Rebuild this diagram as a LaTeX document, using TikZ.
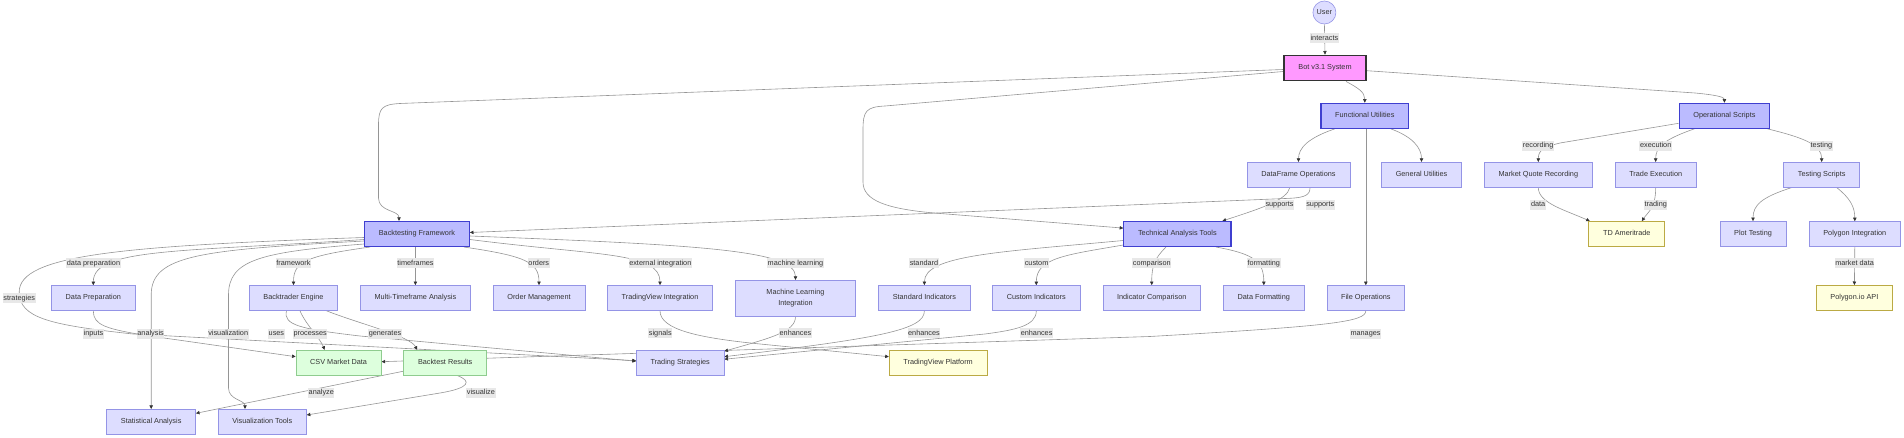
\documentclass[tikz,border=0pt]{standalone}
\usepackage{fontspec}
\setmainfont{Liberation Sans}
\usetikzlibrary{arrows.meta,calc}
\definecolor{txt}{HTML}{333333}
\definecolor{featfill}{HTML}{DDDDFF}
\definecolor{featdraw}{HTML}{9494E6}
\definecolor{catfill}{HTML}{BBBBFF}
\definecolor{catdraw}{HTML}{3F3FD0}
\definecolor{botfill}{HTML}{FF99FF}
\definecolor{botdraw}{HTML}{333333}
\definecolor{gfill}{HTML}{DDFFDD}
\definecolor{gdraw}{HTML}{8FCC8F}
\definecolor{yfill}{HTML}{FFFFDE}
\definecolor{ydraw}{HTML}{BBAA44}
\definecolor{lblfill}{HTML}{E8E8E8}
\definecolor{edgec}{HTML}{959595}
\definecolor{arrowc}{HTML}{333333}
\newcommand\mmfont{\fontsize{7.3}{11}\selectfont}
\pgfdeclarelayer{edgelayer}
\pgfsetlayers{edgelayer,main}
\tikzset{
  base/.style={rectangle, font=\mmfont, text=txt, minimum height=25pt, inner xsep=14.2pt, inner ysep=0pt, text height=5.3pt, text depth=1.5pt},
  feat/.style={base, fill=featfill, draw=featdraw, line width=0.6pt},
  cat/.style={base, fill=catfill, draw=catdraw, line width=1.1pt},
  botst/.style={base, fill=botfill, draw=botdraw, line width=1.8pt},
  grn/.style={base, fill=gfill, draw=gdraw, line width=0.7pt},
  ylw/.style={base, fill=yfill, draw=ydraw, line width=0.8pt},
  lbl/.style={font=\mmfont, text=txt, fill=lblfill, inner xsep=0.6pt, inner ysep=1.6pt, text height=5.3pt, text depth=1.5pt},
  edge/.style={draw=edgec, line width=0.6pt, -{Triangle[length=3.6pt,width=3.4pt,color=arrowc]}},
}
\begin{document}
\begin{tikzpicture}[x=1pt,y=-1pt]
\useasboundingbox (0,0) rectangle (1904,438);
% nodes
\node[circle, fill=featfill, draw=featdraw, line width=0.6pt, minimum size=23pt, inner sep=0pt, font=\mmfont, text=txt] (user) at (1324.4,12.5) {User};
\node[botst] (bot) at (1325,68) {Bot v3.1 System};
\node[cat] (fu) at (1364.8,115.8) {Functional Utilities};
\node[cat] (os) at (1724.4,115.8) {Operational Scripts};
\node[feat] (dfo) at (1298.5,174.8) {DataFrame Operations};
\node[feat] (gu) at (1421.5,174.8) {General Utilities};
\node[feat] (mqr) at (1538.3,174.8) {Market Quote Recording};
\node[feat] (te) at (1655.7,174.8) {Trade Execution};
\node[feat] (tscr) at (1821.7,174.8) {Testing Scripts};
\node[cat] (bf) at (417,234) {Backtesting Framework};
\node[cat] (tat) at (1177.4,234) {Technical Analysis Tools};
\node[ylw] (tda) at (1626.8,234) {TD Ameritrade};
\node[feat] (pt) at (1753,234) {Plot Testing};
\node[feat] (pi) at (1854.8,234) {Polygon Integration};
\node[feat] (dp) at (93.3,298) {Data Preparation};
\node[feat] (be) at (293.5,298) {Backtrader Engine};
\node[feat] (mta) at (415.4,298) {Multi-Timeframe Analysis};
\node[feat] (om) at (539,298) {Order Management};
\node[feat] (tvi) at (660,298) {TradingView Integration};
\node[feat, text height=, text depth=, minimum height=36pt, minimum width=119.6pt, align=center, inner xsep=0pt] (ml) at (795.5,298.3) {Machine Learning\\Integration};
\node[feat] (si) at (924.4,298) {Standard Indicators};
\node[feat] (ci) at (1036.3,298) {Custom Indicators};
\node[feat] (ic) at (1151.7,298) {Indicator Comparison};
\node[feat] (df) at (1263.8,298) {Data Formatting};
\node[feat] (fo) at (1365.8,298) {File Operations};
\node[ylw] (papi) at (1854.4,298) {Polygon.io API};
\node[grn] (csv) at (338.6,362.7) {CSV Market Data};
\node[grn] (br) at (445.2,362.7) {Backtest Results};
\node[feat] (strat) at (680.2,362.7) {Trading Strategies};
\node[ylw] (tvp) at (938.1,362.7) {TradingView Platform};
\node[feat] (sa) at (151.2,421.8) {Statistical Analysis};
\node[feat] (vt) at (262.3,421.8) {Visualization Tools};
% edges
\begin{pgfonlayer}{edgelayer}
\draw[edge] (user.south) -- (bot.north);
\draw[edge] ([yshift=-1.5pt]bot.west) -- (400,103.5) .. controls (382,104.5) and (378.5,108) .. (378.5,125) -- (378.5,198) .. controls (378.5,212) and (399,210) .. ([xshift=-18pt]bf.north);
\draw[edge] ([yshift=-3.5pt]bot.west) -- (885,106) .. controls (866,107) and (863,111) .. (863,130) -- (863,182) .. controls (863,200) and (885,209) .. (937.8,213.3) -- ([yshift=5.9pt]tat.west);
\draw[edge] ([xshift=21pt]bot.south) .. controls (1358,88) and (1364.8,92) .. (fu.north);
\draw[edge] ([yshift=-2.7pt]bot.east) -- (1695,93) .. controls (1716,95) and (1724.4,97) .. (os.north);
\draw[edge] ([xshift=-30pt]fu.south) .. controls (1308,138) and (1298.5,148) .. (dfo.north);
\draw[edge] ([xshift=26pt]fu.south) .. controls (1413,137) and (1421.5,148) .. (gu.north);
\draw[edge] (fo.north |- fu.south) -- (fo.north);
\draw[edge] ([yshift=-7.5pt]os.west) -- (1560,143) .. controls (1544,147) and (1538.3,150) .. (mqr.north);
\draw[edge] ([xshift=-30pt]os.south) .. controls (1662,140) and (1655.7,148) .. (te.north);
\draw[edge] ([xshift=43pt]os.south) .. controls (1805,138) and (1821.7,145) .. (tscr.north);
\draw[edge] ([xshift=-8.7pt]dfo.south) .. controls (1287,200) and (1262,208) .. ([xshift=45pt]tat.north);
\draw[edge] ([xshift=11.5pt]dfo.south) .. controls (1310,195) and (1305,197.5) .. (1290,198.3) -- ([yshift=1.5pt]bf.east);
\draw[edge] (mqr.south) .. controls (1538.3,203) and (1565,210) .. ([xshift=-37pt]tda.north);
\draw[edge] (te.south) .. controls (1655.7,208) and (1648,212) .. ([xshift=15pt]tda.north);
\draw[edge] ([xshift=-30pt]tscr.south) .. controls (1762,197) and (1753,205) .. (pt.north);
\draw[edge] ([xshift=15pt]tscr.south) .. controls (1850,198) and (1854.8,207) .. (pi.north);
\draw[edge] (pi.south) -- (papi.north);
\draw[edge] ([yshift=-6.5pt]tat.west) .. controls (1000,252) and (924.4,255) .. (si.north);
\draw[edge] ([yshift=-11pt]tat.west) .. controls (1065,255) and (1036.3,258) .. (ci.north);
\draw[edge] ([xshift=-11.4pt]tat.south) .. controls (1155,258) and (1151.7,265) .. (ic.north);
\draw[edge] ([xshift=38.6pt]tat.south) .. controls (1255,254) and (1263.8,262) .. (df.north);
\draw[edge] ([yshift=-5.5pt]bf.west) .. controls (180,252) and (93.3,248) .. (dp.north);
\draw[edge] ([yshift=-3.5pt]bf.west) .. controls (120,246) and (19.2,255) .. (19.2,292) .. controls (19.2,318) and (50,325) .. (133,334) -- ([yshift=2pt]strat.west);
\draw[edge] ([yshift=-7pt]bf.west) .. controls (200,250) and (151.2,255) .. (151.2,295) -- (sa.north);
\draw[edge] ([yshift=-10pt]bf.west) .. controls (260,252) and (228.5,260) .. (228.5,295) -- (228.5,388) .. controls (228.5,400) and (245,400) .. ([xshift=-17.3pt]vt.north);
\draw[edge] ([xshift=-47pt]bf.south) .. controls (305,256) and (293.5,262) .. (be.north);
\draw[edge] (mta.north |- bf.south) -- (mta.north);
\draw[edge] ([xshift=47pt]bf.south) .. controls (525,256) and (539,262) .. (om.north);
\draw[edge] ([yshift=-5.5pt]bf.east) .. controls (600,256) and (660,252) .. (tvi.north);
\draw[edge] ([yshift=-2pt]bf.east) .. controls (700,245) and (795.5,250) .. (ml.north);
\draw[edge] ([xshift=-7pt]be.south) .. controls (283,325) and (300,329) .. (360,336) -- ([yshift=1.5pt]strat.west);
\draw[edge] ([xshift=6.5pt]be.south) .. controls (306,325) and (320,338) .. ([xshift=-14pt]csv.north);
\draw[edge] ([xshift=33pt]be.south) .. controls (360,324) and (410,336) .. ([xshift=-28pt]br.north);
\draw[edge] (dp.south) .. controls (93.3,325) and (105,329) .. (150,336) -- ([yshift=6pt]csv.west);
\draw[edge] ([yshift=-8.5pt]br.west) -- ([yshift=8.5pt]sa.east);
\draw[edge] ([xshift=12pt]br.south) .. controls (472,381) and (470,388) .. (440,393) -- ([yshift=6.8pt]vt.east);
\draw[edge] (fo.south) .. controls (1365.8,322) and (1330,326) .. (1150,336.5) -- ([yshift=1pt]csv.east);
\draw[edge] (tvi.south) .. controls (660,330) and (700,338) .. (760,344) -- ([yshift=6pt]tvp.west);
\draw[edge] (ml.south) .. controls (795.5,332) and (770,338) .. ([yshift=11.5pt]strat.east);
\draw[edge] (si.south) .. controls (924.4,330) and (880,338) .. ([yshift=6pt]strat.east);
\draw[edge] (ci.south) .. controls (1036.3,326) and (1015,330) .. (985,334) -- ([yshift=3.5pt]strat.east);
\end{pgfonlayer}
% edge labels
\node[lbl] (l01) at (1324.4,38.5) {interacts};
\node[lbl] (l02) at (1538.1,145.7) {recording};
\node[lbl] (l03) at (1655.7,145.7) {execution};
\node[lbl] (l04) at (1821.4,145.7) {testing};
\node[lbl] (l05) at (1279.5,204.7) {supports};
\node[lbl] (l06) at (1320.3,204.7) {supports};
\node[lbl] (l07) at (1538.1,204.7) {data};
\node[lbl] (l08) at (1655.7,204.7) {trading};
\node[lbl] (l09) at (1854.6,263.3) {market data};
\node[lbl] (l10) at (93.5,263.3) {data preparation};
\node[lbl] (l11) at (293.5,263.3) {framework};
\node[lbl] (l12) at (415.5,263.3) {timeframes};
\node[lbl] (l13) at (538.8,263.3) {orders};
\node[lbl] (l14) at (660.3,263.3) {external integration};
\node[lbl] (l15) at (795.5,263.3) {machine learning};
\node[lbl] (l16) at (924,263.3) {standard};
\node[lbl] (l17) at (1036.6,263.3) {custom};
\node[lbl] (l18) at (1151.8,263.3) {comparison};
\node[lbl] (l19) at (1263.8,263.3) {formatting};
\node[lbl] (l20) at (19.2,298.5) {strategies};
\node[lbl] (l21) at (93.5,333.7) {inputs};
\node[lbl] (l22) at (150.6,333.7) {analysis};
\node[lbl] (l23) at (228.2,333.7) {visualization};
\node[lbl] (l24) at (276.4,333.7) {uses};
\node[lbl] (l25) at (310.2,333.7) {processes};
\node[lbl] (l26) at (385,333.7) {generates};
\node[lbl] (l27) at (660.3,333.5) {signals};
\node[lbl] (l28) at (795.5,333.5) {enhances};
\node[lbl] (l29) at (924,333.5) {enhances};
\node[lbl] (l30) at (1036.6,333.5) {enhances};
\node[lbl] (l31) at (1365.5,333.7) {manages};
\node[lbl] (l32) at (321.3,392.7) {analyze};
\node[lbl] (l33) at (480.9,392.7) {visualize};
\end{tikzpicture}
\end{document}
